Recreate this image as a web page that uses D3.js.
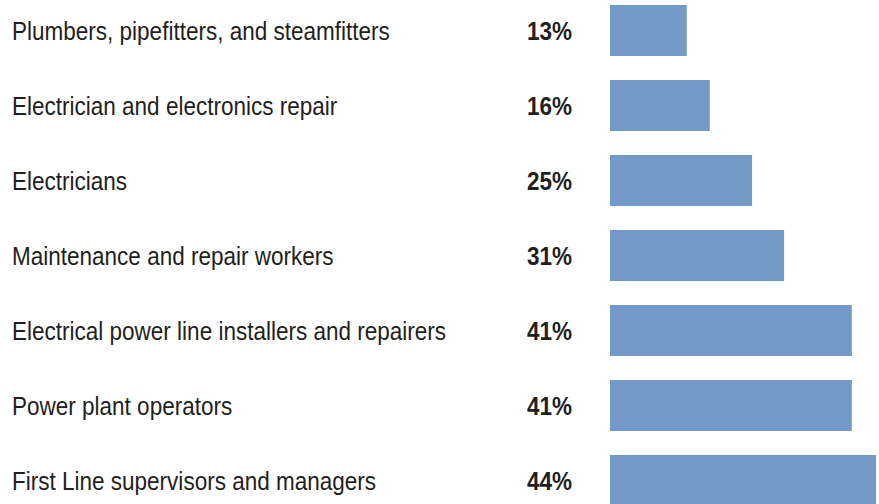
<!DOCTYPE html>
<html>
<head>
<meta charset="utf-8">
<script src="https://cdn.jsdelivr.net/npm/d3@7"></script>
<style>
  html, body { margin: 0; padding: 0; background: #ffffff; }
  svg { display: block; }
  .cat { font-family: "Liberation Sans", Arial, sans-serif; font-size: 26px; fill: #231f20; }
  .pct { font-family: "Liberation Sans", Arial, sans-serif; font-size: 26px; font-weight: bold; fill: #231f20; }
</style>
</head>
<body>
<svg id="chart" width="879" height="504"></svg>
<script>
const categories = [
  "Plumbers, pipefitters, and steamfitters",
  "Electrician and electronics repair",
  "Electricians",
  "Maintenance and repair workers",
  "Electrical power line installers and repairers",
  "Power plant operators",
  "First Line supervisors and managers"
];
const shareLabels = ["13%", "16%", "25%", "31%", "41%", "41%", "44%"];
const barValues = [12.7, 16.5, 23.5, 28.8, 40, 40, 44];

const svg = d3.select("#chart");
const condense = 0.866;

const y = d3.scaleBand()
  .domain(categories)
  .range([-7, 518])
  .paddingInner(0.32)
  .paddingOuter(0.16);

const x = d3.scaleLinear()
  .domain([0, 44])
  .range([610, 876]);

const rows = svg.selectAll("g.row")
  .data(categories.map((c, i) => ({ c, label: shareLabels[i], v: barValues[i] })))
  .join("g")
  .attr("class", "row");

rows.append("rect")
  .attr("x", x(0))
  .attr("y", d => y(d.c))
  .attr("width", d => x(d.v) - x(0))
  .attr("height", y.bandwidth())
  .attr("fill", "#7399c6");

rows.append("text")
  .attr("class", "cat")
  .attr("transform", d => `translate(12,${y(d.c) + y.bandwidth() / 2 + 9}) scale(${condense},1)`)
  .text(d => d.c);

rows.append("text")
  .attr("class", "pct")
  .attr("text-anchor", "end")
  .attr("transform", d => `translate(572,${y(d.c) + y.bandwidth() / 2 + 9}) scale(${condense},1)`)
  .text(d => d.label);
</script>
</body>
</html>
